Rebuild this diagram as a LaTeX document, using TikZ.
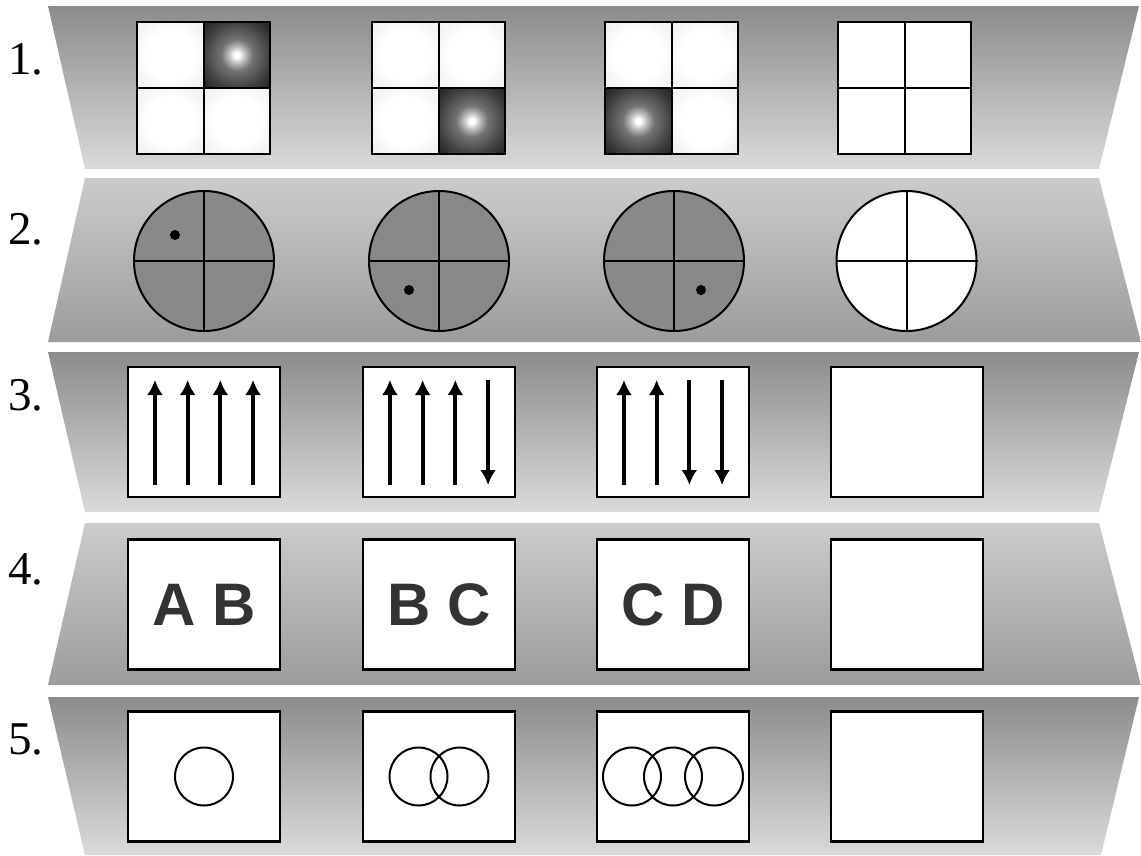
\documentclass[tikz,border=0pt]{standalone}
\usepackage{fontspec}
\setmainfont{Liberation Serif}
\newfontfamily\boxfont{Liberation Sans}
\usetikzlibrary{arrows.meta,calc,positioning}
\definecolor{bandDark}{HTML}{8C8C8C}
\definecolor{bandLight}{HTML}{DADADA}
\definecolor{bandHigh}{HTML}{CBCBCB}
\definecolor{bandLow}{HTML}{9C9C9C}
\definecolor{discGray}{HTML}{898989}
\definecolor{inkGray}{HTML}{333333}
\pgfdeclareradialshading{hotspot}{\pgfpoint{0bp}{0bp}}{color(0bp)=(white); color(2bp)=(white); color(6bp)=(black!25); color(12bp)=(black!55); color(25bp)=(black!75); color(36bp)=(black!88); color(50bp)=(black!88)}
\pgfdeclareradialshading{softcell}{\pgfpoint{0bp}{0bp}}{color(0bp)=(white); color(18bp)=(white); color(25bp)=(black!3); color(36bp)=(black!6); color(50bp)=(black!6)}
\tikzset{
  row label/.style={anchor=west,inner sep=0pt,font=\fontsize{47}{47}\selectfont},
  cell/.style={draw,line width=2pt,minimum width=66.5pt,minimum height=66pt,inner sep=0pt,shade,shading=softcell},
  hot cell/.style={cell,shading=hotspot},
  blank cell/.style={draw,line width=2pt,minimum width=66.5pt,minimum height=66pt,inner sep=0pt,fill=white},
  disc/.style={circle,draw,line width=2pt,minimum size=140pt,inner sep=0pt,fill=discGray},
  empty disc/.style={disc,fill=white},
  dot/.style={circle,fill=black,minimum size=10pt,inner sep=0pt},
  frame box/.style={draw,fill=white,line width=2.5pt,minimum width=152pt,minimum height=130pt,inner sep=0pt},
  field line/.style={line width=4pt,-{Latex[length=15pt,width=16pt]}},
  pair text/.style={font=\boxfont\bfseries\fontsize{60}{60}\selectfont,text=inkGray},
  ring/.style={circle,draw,line width=2pt,minimum size=58pt,inner sep=0pt},
}

\begin{document}
\begin{tikzpicture}[x=1pt,y=-1pt]
  \useasboundingbox (0,0) rectangle (1141,855);
  \foreach \t/\b/\tl/\tr/\bl/\br/\ct/\cb in {6/169/48/1139/85/1099/bandDark/bandLight,
      178/342/85/1099/48/1141/bandHigh/bandLow,
      352/512/48/1139/85/1099/bandDark/bandLight,
      523/685/85/1099/48/1141/bandHigh/bandLow,
      697/855/48/1139/85/1101/bandDark/bandLight}{
    \shade[top color=\ct,bottom color=\cb] (\tl,\t) -- (\tr,\t) -- (\br,\b) -- (\bl,\b) -- cycle;
  }
  \foreach \i/\y in {1/59,2/229,3/395,4/569,5/739}{
    \node[row label] (n\i) at (8,\y) {\i.};
  }
  \foreach \c/\x/\d in {1/203.5/2,2/438.5/4,3/671.5/3,4/904.5/0}{
    \foreach \q/\dx/\dy in {1/-33.25/-33,2/33.25/-33,3/-33.25/33,4/33.25/33}{
      \ifnum\q=\d\relax\def\cs{hot cell}\else\def\cs{cell}\fi
      \ifnum\d=0\relax\def\cs{blank cell}\fi
      \node[\cs] (q\c\q) at (\x+\dx,88+\dy) {};
    }
  }
  \foreach \c/\x in {1/204,2/439,3/674}{
    \node[disc] (c\c) at (\x,261) {};
  }
  \node[empty disc] (c4) at (906.5,261) {};
  \foreach \c in {1,...,4}{
    \draw[line width=2pt] (c\c.north) -- (c\c.south);
    \draw[line width=2pt] (c\c.west) -- (c\c.east);
  }
  \foreach \c/\dx/\dy in {1/-29/-26,2/-30/29,3/27/29}{
    \node[dot] (d\c) at ($(c\c)+(\dx,\dy)$) {};
  }
  \foreach \c/\x in {1/204,2/439,3/673,4/907}{
    \node[frame box] (a\c) at (\x,432) {};
  }
  \foreach \c/\n in {1/4,2/3,3/2}{
    \foreach \k in {1,...,4}{
      \pgfmathsetmacro\ax{(\k-2.5)*32.7}
      \coordinate (lo\c\k) at ($(a\c)+(\ax,53)$);
      \coordinate (hi\c\k) at ($(a\c)+(\ax,-52)$);
      \ifnum\k>\n\relax
        \draw[field line] (hi\c\k) -- (lo\c\k);
      \else
        \draw[field line] (lo\c\k) -- (hi\c\k);
      \fi
    }
  }
  \foreach \c/\x/\t in {1/204/A B,2/439/B C,3/673/C D,4/907/}{
    \node[frame box,pair text] (t\c) at (\x,604.5) {\t};
  }
  \foreach \c/\x in {1/204,2/439,3/673,4/907}{
    \node[frame box] (r\c) at (\x,776.5) {};
  }
  \foreach \c/\n in {1/1,2/2,3/3}{
    \foreach \k in {1,...,\n}{
      \pgfmathsetmacro\rx{(\k-(\n+1)/2)*41}
      \node[ring] (o\c\k) at ($(r\c)+(\rx,0)$) {};
    }
  }
\end{tikzpicture}
\end{document}
